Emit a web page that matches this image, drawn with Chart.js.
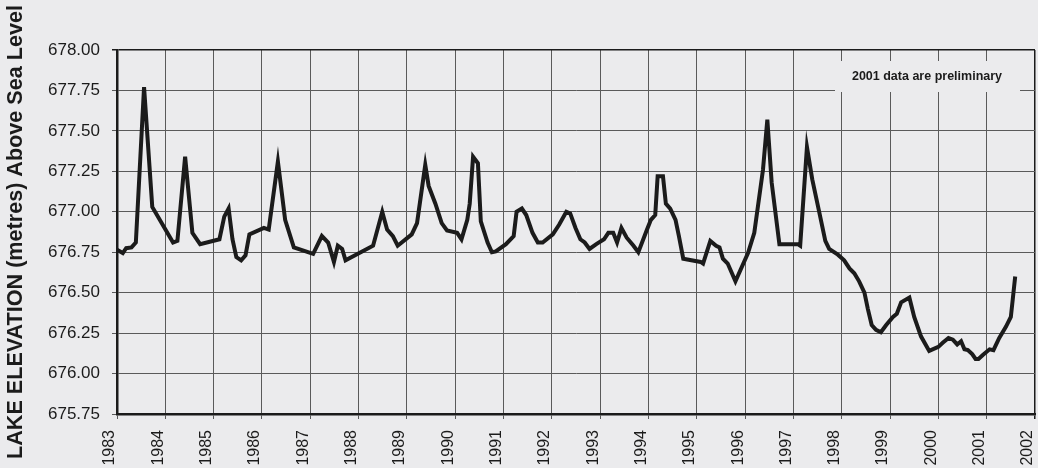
<!DOCTYPE html>
<html>
<head>
<meta charset="utf-8">
<script src="https://cdn.jsdelivr.net/npm/chart.js@4/dist/chart.umd.min.js"></script>
<style>
  html, body { margin: 0; padding: 0; background: #ebebed; }
  #wrap { width: 1038px; height: 468px; position: relative; }
</style>
</head>
<body>
<div id="wrap"><canvas id="lake"></canvas></div>
<script>
"use strict";

// Vertices (decimal year, metres ASL).
const YEARS = [
  1983.00, 1983.12, 1983.19, 1983.30, 1983.39, 1983.56, 1983.73, 1984.16, 1984.25, 1984.41,
  1984.56, 1984.72, 1985.12, 1985.22, 1985.31, 1985.39, 1985.47, 1985.57, 1985.66, 1985.74,
  1986.04, 1986.14, 1986.33, 1986.48, 1986.66, 1987.06, 1987.24, 1987.37, 1987.49, 1987.57,
  1987.66, 1987.73, 1988.30, 1988.49, 1988.59, 1988.71, 1988.81, 1989.10, 1989.21, 1989.38,
  1989.45, 1989.59, 1989.72, 1989.83, 1990.04, 1990.13, 1990.25, 1990.30, 1990.37, 1990.47,
  1990.53, 1990.67, 1990.76, 1990.84, 1991.05, 1991.21, 1991.27, 1991.38, 1991.47, 1991.60,
  1991.71, 1991.81, 1992.02, 1992.15, 1992.30, 1992.38, 1992.49, 1992.59, 1992.68, 1992.78,
  1992.92, 1993.08, 1993.17, 1993.27, 1993.35, 1993.44, 1993.55, 1993.69, 1993.79, 1993.97,
  1994.05, 1994.14, 1994.19, 1994.30, 1994.36, 1994.45, 1994.56, 1994.63, 1994.72, 1995.08,
  1995.13, 1995.28, 1995.40, 1995.47, 1995.54, 1995.64, 1995.80, 1996.06, 1996.19, 1996.37,
  1996.46, 1996.55, 1996.71, 1997.09, 1997.14, 1997.28, 1997.39, 1997.54, 1997.66, 1997.74,
  1997.92, 1998.05, 1998.16, 1998.26, 1998.36, 1998.47, 1998.54, 1998.62, 1998.71, 1998.81,
  1998.92, 1999.06, 1999.14, 1999.23, 1999.40, 1999.50, 1999.64, 1999.81, 2000.00, 2000.09,
  2000.21, 2000.30, 2000.39, 2000.47, 2000.54, 2000.61, 2000.70, 2000.77, 2000.83, 2000.92,
  2001.06, 2001.14, 2001.26, 2001.40, 2001.50, 2001.54, 2001.59,
];
const LEVELS = [
  676.765, 676.745, 676.775, 676.78, 676.81, 677.77, 677.03, 676.81, 676.82, 677.34,
  676.87, 676.80, 676.83, 676.97, 677.02, 676.83, 676.72, 676.70, 676.73, 676.86,
  676.90, 676.89, 677.31, 676.95, 676.78, 676.74, 676.85, 676.81, 676.69, 676.79,
  676.77, 676.70, 676.79, 677.00, 676.89, 676.85, 676.79, 676.86, 676.93, 677.29,
  677.16, 677.05, 676.93, 676.885, 676.87, 676.83, 676.95, 677.05, 677.34, 677.30,
  676.94, 676.81, 676.75, 676.755, 676.80, 676.85, 677.00, 677.02, 676.98, 676.87,
  676.81, 676.81, 676.86, 676.92, 677.00, 676.99, 676.90, 676.83, 676.81, 676.77,
  676.80, 676.83, 676.87, 676.87, 676.81, 676.90, 676.84, 676.79, 676.75, 676.89,
  676.95, 676.98, 677.22, 677.22, 677.05, 677.02, 676.95, 676.85, 676.71, 676.69,
  676.68, 676.82, 676.79, 676.78, 676.71, 676.68, 676.57, 676.745, 676.87, 677.26,
  677.57, 677.18, 676.80, 676.80, 676.79, 677.40, 677.20, 676.99, 676.82, 676.77,
  676.735, 676.70, 676.65, 676.62, 676.57, 676.50, 676.40, 676.30, 676.27, 676.255,
  676.30, 676.35, 676.37, 676.44, 676.47, 676.35, 676.23, 676.14, 676.165, 676.19,
  676.22, 676.21, 676.18, 676.20, 676.15, 676.145, 676.12, 676.09, 676.09, 676.115,
  676.15, 676.145, 676.22, 676.29, 676.35, 676.46, 676.60,
];

const Y_MIN = 675.75, Y_MAX = 678.0, Y_STEP = 0.25;
const X_MIN = 1983, X_MAX = 2002;
const Y_TITLE = "LAKE ELEVATION (metres) Above Sea Level";
const NOTE = "2001 data are preliminary";

const BG = "#ebebed";
const INK = "#1b1b1b";
const GRID = "#5a5a5a";
const FONT = "'Liberation Sans', Arial, sans-serif";

// Light box behind the note, knocking out the grid like the original.
const notePlugin = {
  id: "note",
  afterDatasetsDraw(chart) {
    const { ctx } = chart;
    ctx.save();
    ctx.fillStyle = BG;
    ctx.fillRect(835, 61, 185, 31);
    ctx.fillStyle = INK;
    ctx.font = `bold 12.5px ${FONT}`;
    ctx.textAlign = "center";
    ctx.textBaseline = "middle";
    ctx.fillText(NOTE, 927, 77);
    ctx.restore();
  },
};

const edge = (w) => (c) => (c.tick && (c.tick.value === Y_MAX || c.tick.value === X_MAX) ? w : 1);

new Chart(document.getElementById("lake"), {
  type: "line",
  data: {
    datasets: [{
      data: YEARS.map((x, i) => ({ x, y: LEVELS[i] })),
      borderColor: INK,
      borderWidth: 4,
      borderJoinStyle: "miter",
      pointRadius: 0,
      tension: 0,
    }],
  },
  options: {
    responsive: true,
    maintainAspectRatio: false,
    animation: false,
    events: [],
    layout: { padding: { top: 50, right: 3, left: 0, bottom: 0 } },
    plugins: { legend: { display: false }, tooltip: { enabled: false } },
    scales: {
      x: {
        type: "linear",
        min: X_MIN,
        max: X_MAX,
        // the rotated end labels would otherwise eat into the plot width
        afterFit: (s) => { s.height = 54; s.paddingLeft = 0; s.paddingRight = 0; },
        ticks: {
          stepSize: 1,
          autoSkip: false,
          minRotation: 90,
          maxRotation: 90,
          padding: 11,
          labelOffset: -7,
          color: INK,
          font: { family: FONT, size: 16 },
          callback: (v) => String(v),
        },
        grid: { color: (c) => (c.tick && c.tick.value === X_MAX ? INK : GRID), lineWidth: edge(1.5), tickLength: 5 },
        border: { color: INK, width: 2.5 },
      },
      y: {
        min: Y_MIN,
        max: Y_MAX,
        afterFit: (s) => { s.width = 117; s.paddingTop = 0; s.paddingBottom = 0; },
        ticks: {
          stepSize: Y_STEP,
          padding: 12,
          color: INK,
          font: { family: FONT, size: 17 },
          callback: (v) => v.toFixed(2),
        },
        grid: { color: (c) => (c.tick && c.tick.value === Y_MAX ? INK : GRID), lineWidth: edge(1.5), tickLength: 5 },
        border: { color: INK, width: 2.5 },
        title: {
          display: true,
          text: Y_TITLE,
          color: INK,
          padding: { top: 3, bottom: 0 },
          font: { family: FONT, size: 21.6, weight: "bold" },
        },
      },
    },
  },
  plugins: [notePlugin],
});
</script>
</body>
</html>
